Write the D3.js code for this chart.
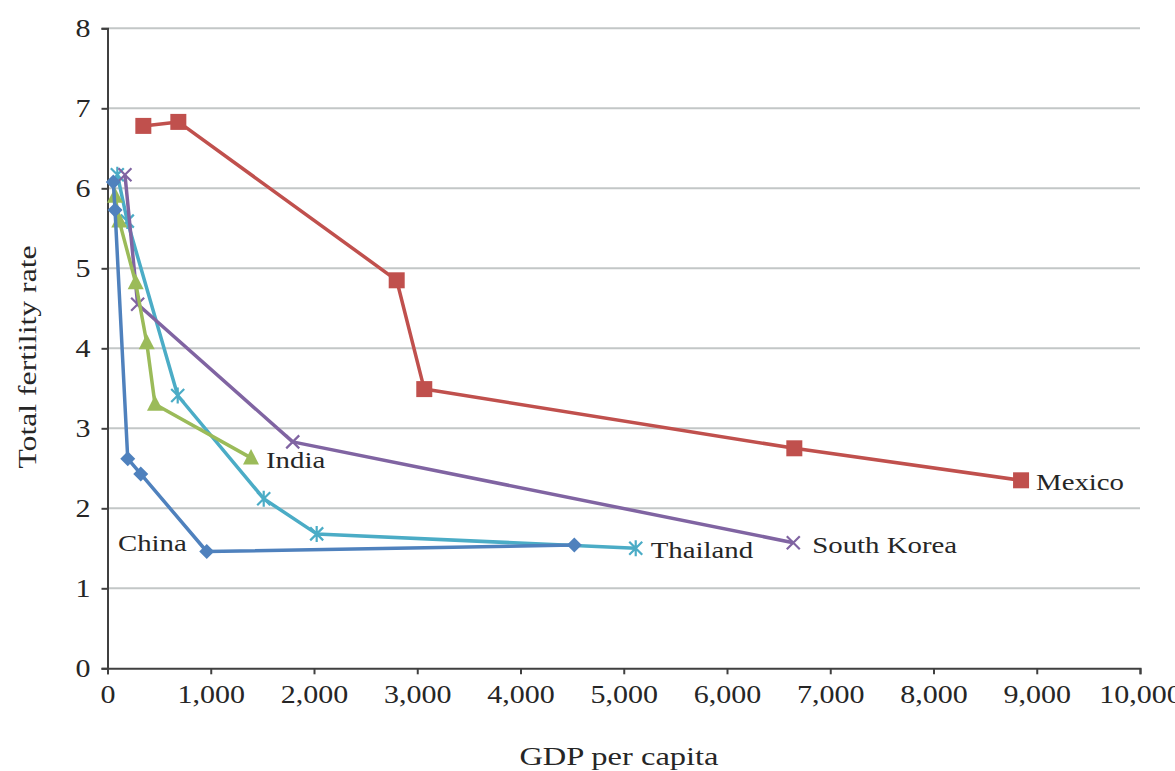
<!DOCTYPE html>
<html>
<head>
<meta charset="utf-8">
<script src="https://cdn.jsdelivr.net/npm/d3@7"></script>
<style>
  html, body { margin: 0; padding: 0; background: #fff; }
  svg text { font-family: "Liberation Serif", "DejaVu Serif", serif; fill: #262626; }
</style>
</head>
<body>
<svg id="chart" width="1175" height="771"></svg>
<script>
// GDP per capita vs total fertility rate, by country
const chinaGdp      = [56, 73, 196, 322, 961, 4521];
const chinaTfr      = [6.08, 5.73, 2.62, 2.43, 1.46, 1.54];
const mexicoGdp     = [347, 686, 2801, 3068, 6652, 8848];
const mexicoTfr     = [6.78, 6.83, 4.85, 3.49, 2.75, 2.35];
const indiaGdp      = [73, 114, 273, 380, 460, 1390];
const indiaTfr      = [5.90, 5.59, 4.82, 4.07, 3.30, 2.63];
const koreaGdp      = [169, 292, 1794, 6642];
const koreaTfr      = [6.17, 4.55, 2.83, 1.57];
const thailandGdp   = [95, 192, 680, 1513, 2026, 5116];
const thailandTfr   = [6.17, 5.59, 3.41, 2.12, 1.68, 1.50];

const xTicks = [0, 1000, 2000, 3000, 4000, 5000, 6000, 7000, 8000, 9000, 10000];
const yTicks = [0, 1, 2, 3, 4, 5, 6, 7, 8];

const seriesList = [
  { name: "Thailand",    gdp: thailandGdp, tfr: thailandTfr, color: "#4BACC6", marker: "asterisk", label: "right" },
  { name: "South Korea", gdp: koreaGdp,    tfr: koreaTfr,    color: "#8064A2", marker: "x",        label: "right" },
  { name: "India",       gdp: indiaGdp,    tfr: indiaTfr,    color: "#9BBB59", marker: "triangle", label: "right" },
  { name: "Mexico",      gdp: mexicoGdp,   tfr: mexicoTfr,   color: "#C0504D", marker: "square",   label: "right" },
  { name: "China",       gdp: chinaGdp,    tfr: chinaTfr,    color: "#4F81BD", marker: "diamond",  label: "china" }
];

const svg = d3.select("#chart");
const margin = { left: 107.5, right: 35, top: 28.3, bottom: 102.7 };
const W = 1175, H = 771;

const x = d3.scaleLinear().domain([0, 10000]).range([margin.left, W - margin.right]);
const y = d3.scaleLinear().domain([0, 8]).range([H - margin.bottom, margin.top]);

// stretch serif glyphs horizontally for a wider book face
function widen(sel, factor) {
  sel.each(function () {
    const len = this.getComputedTextLength();
    d3.select(this).attr("textLength", len * factor).attr("lengthAdjust", "spacingAndGlyphs");
  });
}

// horizontal gridlines
svg.append("g")
  .selectAll("line")
  .data(yTicks.filter(d => d > 0))
  .join("line")
  .attr("x1", x(0)).attr("x2", x(10000))
  .attr("y1", d => y(d)).attr("y2", d => y(d))
  .attr("stroke", "#c3c7c7").attr("stroke-width", 2);

// axes
const fmt = d3.format(",");
const xAxis = svg.append("g")
  .attr("transform", `translate(0,${y(0)})`)
  .call(d3.axisBottom(x).tickValues(xTicks).tickFormat(fmt).tickSize(6).tickPadding(5));
const yAxis = svg.append("g")
  .attr("transform", `translate(${x(0)},0)`)
  .call(d3.axisLeft(y).tickValues(yTicks).tickFormat(d3.format("d")).tickSize(6).tickPadding(11));

[xAxis, yAxis].forEach(a => {
  a.select(".domain").attr("stroke", "#404040").attr("stroke-width", 2);
  a.selectAll(".tick line").attr("stroke", "#404040").attr("stroke-width", 2);
  a.selectAll(".tick text").style("font-size", "25px").style("font-family", "Liberation Serif, serif").attr("fill", "#262626");
});
xAxis.selectAll(".tick text").attr("dy", "0.95em");
yAxis.selectAll(".tick text").attr("dy", "0.34em");
widen(xAxis.selectAll(".tick text"), 1.2);
widen(yAxis.selectAll(".tick text"), 1.2);

// marker shapes
function markerPath(type) {
  switch (type) {
    case "square":   return "M-8,-8H8V8H-8Z";
    case "diamond":  return "M0,-7.5L7.5,0L0,7.5L-7.5,0Z";
    case "triangle": return "M0,-9L8,6.5L-8,6.5Z";
    case "x":        return "M-6.5,-6.5L6.5,6.5M-6.5,6.5L6.5,-6.5";
    case "asterisk": return "M-6.5,-6.5L6.5,6.5M-6.5,6.5L6.5,-6.5M0,-8V8";
  }
}

const line = d3.line().x(d => x(d[0])).y(d => y(d[1]));

seriesList.forEach(s => {
  const pts = s.gdp.map((g, i) => [g, s.tfr[i]]);
  const g = svg.append("g");
  g.append("path")
    .attr("d", line(pts))
    .attr("fill", "none")
    .attr("stroke", s.color)
    .attr("stroke-width", 3.5)
    .attr("stroke-linejoin", "round");
  const stroked = s.marker === "x" || s.marker === "asterisk";
  g.selectAll("path.mk")
    .data(pts)
    .join("path")
    .attr("class", "mk")
    .attr("transform", d => `translate(${x(d[0])},${y(d[1])})`)
    .attr("d", markerPath(s.marker))
    .attr("fill", stroked ? "none" : s.color)
    .attr("stroke", s.color)
    .attr("stroke-width", stroked ? 2.2 : 0);

  // series label
  let lx, ly, anchor;
  if (s.label === "china") {
    const p = pts[4];
    lx = x(p[0]) - 20; ly = y(p[1]) - 1; anchor = "end";
  } else {
    const p = pts[pts.length - 1];
    lx = x(p[0]) + (s.name === "South Korea" ? 19 : 15); ly = y(p[1]) + 10; anchor = "start";
  }
  const t = svg.append("text")
    .attr("x", lx).attr("y", ly)
    .attr("text-anchor", anchor)
    .style("font-size", "24px")
    .text(s.name);
  widen(t, 1.2);
});

// axis titles
const xt = svg.append("text")
  .attr("x", 619)
  .attr("y", 765)
  .attr("text-anchor", "middle")
  .style("font-size", "26px")
  .text("GDP per capita");
widen(xt, 1.25);

const yt = svg.append("text")
  .attr("transform", `translate(36,357)rotate(-90)`)
  .attr("text-anchor", "middle")
  .style("font-size", "26px")
  .text("Total fertility rate");
widen(yt, 1.22);
</script>
</body>
</html>
